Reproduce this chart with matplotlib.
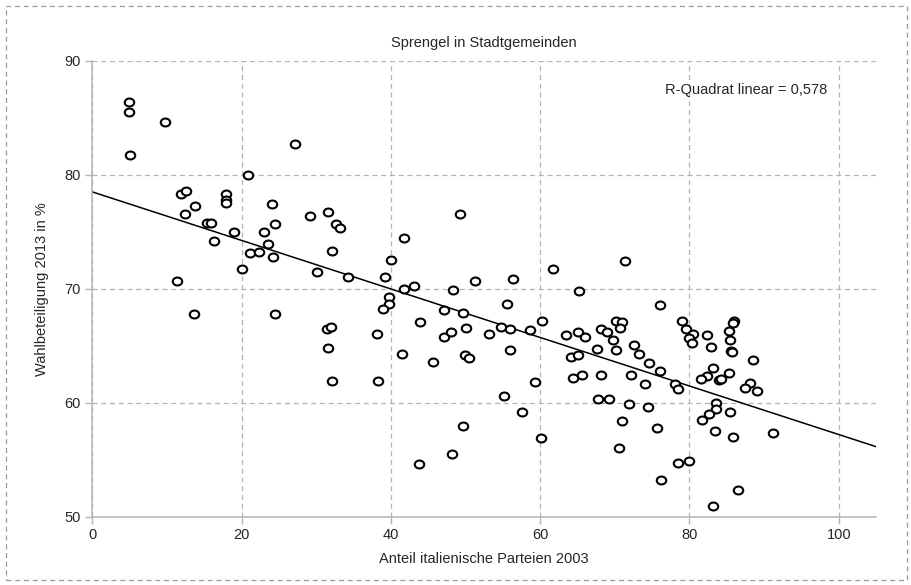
import matplotlib
matplotlib.use("Agg")
import matplotlib.pyplot as plt
import numpy as np
from matplotlib.path import Path
from matplotlib.patches import Rectangle

# Anteil italienische Parteien 2003 (x) / Wahlbeteiligung 2013 in % (y)
anteil_2003 = [
    4.9, 4.9, 9.65, 5.05, 27.1, 20.8, 11.8, 12.55, 17.9, 17.9, 17.9, 13.7, 24.1,
    12.4, 29.2, 31.5, 15.4, 15.9, 24.4, 32.6, 33.2, 18.9, 23.0, 16.3, 23.5, 21.1,
    22.3, 24.2, 32.1, 20.1, 30.1, 34.2, 11.3,
    49.3, 41.8, 40.0, 39.2, 41.8, 43.1, 39.8, 48.3, 51.2, 56.4, 61.7, 65.2,
    71.3,
    13.6, 24.5, 31.4, 32.0, 31.5, 32.1,
    39.8, 38.9, 47.1, 49.6, 55.6, 43.9, 60.3, 38.1, 47.1, 48.1, 50.0, 53.2, 54.8,
    56.0, 58.6, 63.5, 65.1, 66.0, 41.5, 45.6, 49.9, 50.4, 55.9, 64.1, 65.0, 38.2,
    59.3, 64.4, 65.6, 55.1, 57.5, 49.6, 60.1, 48.2, 43.7,
    76.1, 70.2, 70.95, 70.7, 68.1, 69.0, 69.8, 67.6, 70.2, 72.6, 73.2, 74.6, 76.0,
    68.1, 72.2, 74.0, 78.0, 78.4, 67.7, 69.2, 71.9, 74.4, 71.0, 75.7, 70.6, 76.2,
    78.5, 79.9, 83.1, 86.5, 79.0, 79.5, 80.5, 79.9, 80.4, 82.3, 82.9, 86.0, 85.8,
    85.3, 85.4, 85.6, 85.7, 88.5, 83.1, 82.4, 81.5, 84.0, 84.2, 85.3, 88.1, 87.4,
    89.0, 83.6, 83.5, 82.6, 81.7, 85.5, 83.4, 85.8, 91.2,
]
wahlbeteiligung_2013 = [
    86.4, 85.5, 84.6, 81.75, 82.7, 80.0, 78.3, 78.6, 78.3, 77.8, 77.5, 77.3, 77.45,
    76.6, 76.4, 76.7, 75.75, 75.8, 75.7, 75.7, 75.3, 75.0, 75.0, 74.2, 73.95, 73.1,
    73.25, 72.8, 73.3, 71.7, 71.45, 71.0, 70.7,
    76.6, 74.5, 72.5, 71.0, 70.0, 70.2, 69.3, 69.9, 70.7, 70.9, 71.7, 69.8,
    72.4,
    67.8, 67.75, 66.5, 66.6, 64.8, 61.9,
    68.65, 68.2, 68.1, 67.9, 68.65, 67.1, 67.2, 66.0, 65.8, 66.2, 66.55, 66.0, 66.6,
    66.5, 66.35, 65.9, 66.2, 65.75, 64.3, 63.6, 64.2, 63.9, 64.6, 64.0, 64.2, 61.9,
    61.8, 62.2, 62.4, 60.6, 59.2, 57.95, 56.9, 55.5, 54.6,
    68.6, 67.2, 67.1, 66.55, 66.5, 66.2, 65.5, 64.7, 64.65, 65.1, 64.3, 63.45, 62.8,
    62.4, 62.4, 61.6, 61.6, 61.2, 60.3, 60.35, 59.9, 59.6, 58.4, 57.8, 56.0, 53.2,
    54.7, 54.85, 50.95, 52.3, 67.2, 66.5, 66.05, 65.7, 65.2, 65.9, 64.9, 67.2, 67.0,
    66.25, 65.5, 64.55, 64.45, 63.7, 63.0, 62.3, 62.1, 62.0, 62.05, 62.6, 61.7, 61.3,
    61.0, 60.0, 59.4, 59.0, 58.5, 59.15, 57.5, 57.0, 57.3,
]

# linear fit
fit_intercept = 78.5
fit_slope = -0.213
r_squared = "0,578"

x_ticks = [0, 20, 40, 60, 80, 100]
y_ticks = [50, 60, 70, 80, 90]

plt.rcParams["font.family"] = ["Liberation Sans", "DejaVu Sans"]
text_color = "#262626"
grid_color = "#b4b4b4"

fig = plt.figure(figsize=(9.12, 5.85), dpi=100)
ax = fig.add_axes([92.5 / 912, (585 - 516.5) / 585, (876 - 92.5) / 912, (516.5 - 61) / 585])

# outer dashed frame
fig.patches.append(
    Rectangle((6 / 912, 5 / 585), 901 / 912, 574 / 585, transform=fig.transFigure,
              fill=False, edgecolor="#9a9a9a", linewidth=0.9, linestyle=(0, (4, 3)))
)

# slightly flattened circle marker
circle = Path.unit_circle()
ellipse = Path(circle.vertices * np.array([1.0, 0.84]), circle.codes)

ax.plot(anteil_2003, wahlbeteiligung_2013, linestyle="none", marker=ellipse,
        markersize=6.8, markerfacecolor="white", markeredgecolor="black",
        markeredgewidth=1.5, zorder=3)

xs = np.array([0, 105])
ax.plot(xs, fit_intercept + fit_slope * xs, color="black", linewidth=1.1, zorder=2)

ax.set_xlim(0, 105)
ax.set_ylim(50, 90)
ax.set_xticks(x_ticks)
ax.set_yticks(y_ticks)

ax.grid(True, color=grid_color, linestyle=(0, (4, 3)), linewidth=0.9)
ax.set_axisbelow(True)

for side in ["top", "right"]:
    ax.spines[side].set_visible(False)
for side in ["left", "bottom"]:
    ax.spines[side].set_color(grid_color)
    ax.spines[side].set_linewidth(1.1)

ax.tick_params(axis="both", colors=grid_color, labelcolor=text_color,
               labelsize=10.5, length=5, width=1.0)

ax.set_xlabel("Anteil italienische Parteien 2003", fontsize=10.5, color=text_color,
              labelpad=7)
ax.set_ylabel("Wahlbeteiligung 2013 in %", fontsize=10.5, color=text_color,
              labelpad=11)
ax.set_title("Sprengel in Stadtgemeinden", fontsize=10.5, color=text_color, pad=10)

ax.text(98.5, 87.45, f"R-Quadrat linear = {r_squared}", ha="right", va="center",
        fontsize=10.5, color=text_color)

fig.savefig("out.png", dpi=100)
